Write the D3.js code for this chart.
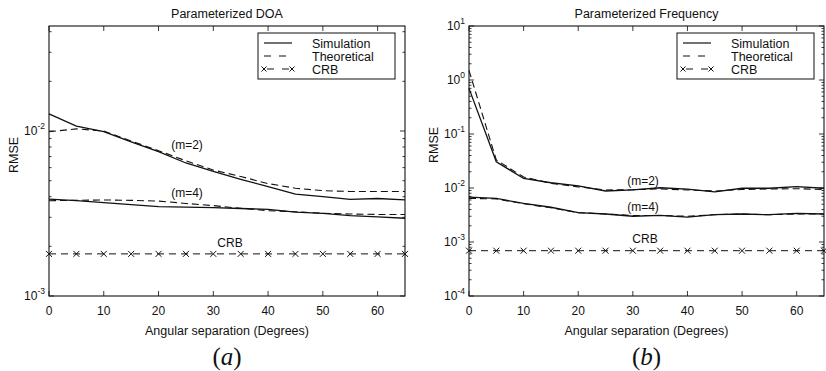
<!DOCTYPE html>
<html>
<head>
<meta charset="utf-8">
<script src="https://cdn.jsdelivr.net/npm/d3@7"></script>
<style>
  body { margin: 0; background: #fff; }
  text { font-family: "Liberation Sans", Arial, sans-serif; fill: #111; }
</style>
</head>
<body>
<div id="chart"></div>
<script>
// angular separation (degrees)
const angles = [0, 5, 10, 15, 20, 25, 30, 35, 40, 45, 50, 55, 60, 65];
const xTicks = [0, 10, 20, 30, 40, 50, 60];

// (a) Parameterized DOA
const doaSimM2 = [0.0127, 0.0107, 0.0099, 0.0086, 0.0075, 0.0064, 0.0057, 0.0051, 0.0046, 0.00415, 0.0040, 0.00385, 0.0039, 0.00382];
const doaTheoM2 = [0.0099, 0.0103, 0.0100, 0.0087, 0.0076, 0.0066, 0.0058, 0.0053, 0.0048, 0.0045, 0.00435, 0.0043, 0.0043, 0.0043];
const doaSimM4 = [0.00387, 0.00378, 0.00368, 0.00358, 0.00348, 0.00346, 0.00343, 0.00339, 0.00335, 0.00322, 0.00317, 0.00307, 0.00302, 0.00296];
const doaTheoM4 = [0.00378, 0.0038, 0.00382, 0.0038, 0.00376, 0.00364, 0.00353, 0.0034, 0.00329, 0.00324, 0.00317, 0.00314, 0.00312, 0.00312];
const doaCRB = [0.0018, 0.0018, 0.0018, 0.0018, 0.0018, 0.0018, 0.0018, 0.0018, 0.0018, 0.0018, 0.0018, 0.0018, 0.0018, 0.0018];
const doaYTicks = [-3, -2];

// (b) Parameterized Frequency
const freqSimM2 = [0.70, 0.0307, 0.015, 0.0125, 0.0109, 0.0088, 0.0092, 0.0101, 0.0095, 0.0085, 0.0099, 0.0099, 0.0106, 0.0099];
const freqTheoM2 = [1.5, 0.033, 0.016, 0.0122, 0.0105, 0.0092, 0.0093, 0.0096, 0.0092, 0.0088, 0.0094, 0.0096, 0.0097, 0.0094];
const freqSimM4 = [0.0068, 0.0064, 0.0052, 0.0044, 0.0035, 0.0033, 0.0030, 0.0031, 0.0029, 0.0032, 0.0033, 0.0032, 0.0034, 0.0033];
const freqTheoM4 = [0.0064, 0.0063, 0.0051, 0.0043, 0.0035, 0.0033, 0.0031, 0.0031, 0.0030, 0.0032, 0.0033, 0.0032, 0.0033, 0.0033];
const freqCRB = [0.00069, 0.00069, 0.00069, 0.00069, 0.00069, 0.00069, 0.00069, 0.00069, 0.00069, 0.00069, 0.00069, 0.00069, 0.00069, 0.00069];
const freqYTicks = [-4, -3, -2, -1, 0, 1];

const legendLabels = ["Simulation", "Theoretical", "CRB"];

const w = 826, h = 371;
const svg = d3.select("#chart").append("svg")
    .attr("width", w).attr("height", h)
    .attr("viewBox", [0, 0, w, h]);

function drawPanel(p) {
    const x = d3.scaleLinear().domain([0, 65]).range([p.left, p.right]);
    const y = d3.scaleLog().domain(p.yDomain).range([p.bottom, p.top]);
    const g = svg.append("g");

    // ticks (inward, both sides)
    const tk = g.append("g").attr("stroke", "#222").attr("stroke-width", 0.9);
    xTicks.forEach(t => {
        tk.append("line").attr("x1", x(t)).attr("x2", x(t)).attr("y1", p.bottom).attr("y2", p.bottom - 5);
        tk.append("line").attr("x1", x(t)).attr("x2", x(t)).attr("y1", p.top).attr("y2", p.top + 5);
    });
    const lo = Math.floor(Math.log10(p.yDomain[0])), hi = Math.ceil(Math.log10(p.yDomain[1]));
    for (let e = lo; e <= hi; e++) {
        for (let k = 1; k <= 9; k++) {
            const v = k * Math.pow(10, e);
            if (v < p.yDomain[0] * 0.999 || v > p.yDomain[1] * 1.001) continue;
            const len = k === 1 ? 5 : 2.5;
            tk.append("line").attr("x1", p.left).attr("x2", p.left + len).attr("y1", y(v)).attr("y2", y(v));
            tk.append("line").attr("x1", p.right).attr("x2", p.right - len).attr("y1", y(v)).attr("y2", y(v));
        }
    }

    // frame
    g.append("rect")
        .attr("x", p.left).attr("y", p.top)
        .attr("width", p.right - p.left).attr("height", p.bottom - p.top)
        .attr("fill", "none").attr("stroke", "#111").attr("stroke-width", 1.1);

    // x tick labels
    g.append("g").selectAll("text").data(xTicks).join("text")
        .attr("x", d => x(d)).attr("y", p.bottom + 19)
        .attr("text-anchor", "middle").style("font-size", "12px")
        .text(d => d);

    // y tick labels 10^e
    const yl = g.append("g").selectAll("text").data(p.yTicks).join("text")
        .attr("x", p.left - 4).attr("y", d => y(Math.pow(10, d)) + 4)
        .attr("text-anchor", "end").style("font-size", "12px");
    yl.append("tspan").text("10");
    yl.append("tspan").attr("dy", -6).style("font-size", "8.5px").text(d => d);

    // titles
    g.append("text").attr("x", (p.left + p.right) / 2).attr("y", 18)
        .attr("text-anchor", "middle").style("font-size", "12.5px").text(p.title);
    g.append("text").attr("x", (p.left + p.right) / 2).attr("y", 335)
        .attr("text-anchor", "middle").style("font-size", "12.5px").text("Angular separation (Degrees)");
    g.append("text")
        .attr("transform", `translate(${p.left - 31},${p.ylabelY}) rotate(-90)`)
        .attr("text-anchor", "middle").style("font-size", "12.5px").text("RMSE");

    const sub = g.append("text").attr("x", (p.left + p.right) / 2).attr("y", 365)
        .attr("text-anchor", "middle")
        .style("font-family", "'Liberation Serif', 'DejaVu Serif', serif").style("font-size", "25px");
    sub.append("tspan").text("(");
    sub.append("tspan").style("font-style", "italic").text(p.tag);
    sub.append("tspan").text(")");

    const line = d3.line().x(d => x(d[0])).y(d => y(d[1]));
    const plot = g.append("g").attr("fill", "none").attr("stroke", "#111");

    p.sim.forEach(s => plot.append("path")
        .attr("d", line(angles.map((a, i) => [a, s[i]])))
        .attr("stroke-width", 1.3));
    p.theo.forEach(s => plot.append("path")
        .attr("d", line(angles.map((a, i) => [a, s[i]])))
        .attr("stroke-width", 1.1).attr("stroke-dasharray", "7,4"));
    plot.append("path")
        .attr("d", line(angles.map((a, i) => [a, p.crb[i]])))
        .attr("stroke-width", 1).attr("stroke-dasharray", "7,5");
    plot.append("g").selectAll("path").data(angles).join("path")
        .attr("d", (a, i) => {
            const cx = x(a), cy = y(p.crb[i]), r = 3;
            return `M${cx - r},${cy - r}L${cx + r},${cy + r}M${cx - r},${cy + r}L${cx + r},${cy - r}`;
        })
        .attr("stroke-width", 1);

    // curve labels
    const lab = g.append("g").style("font-size", "12px");
    lab.append("text").attr("x", p.m2[0]).attr("y", p.m2[1]).attr("text-anchor", "middle").text("(m=2)");
    lab.append("text").attr("x", p.m4[0]).attr("y", p.m4[1]).attr("text-anchor", "middle").text("(m=4)");
    lab.append("text").attr("x", p.crbLab[0]).attr("y", p.crbLab[1]).attr("text-anchor", "middle").text("CRB");

    // legend
    const lx = p.right - 147, ly = p.top + 7;
    const leg = g.append("g");
    leg.append("rect").attr("x", lx).attr("y", ly).attr("width", 137).attr("height", 46)
        .attr("fill", "#fff").attr("stroke", "#111").attr("stroke-width", 1);
    legendLabels.forEach((name, i) => {
        const yy = ly + 10 + i * 13;
        const ln = leg.append("line").attr("x1", lx + 6).attr("x2", lx + 34)
            .attr("y1", yy).attr("y2", yy).attr("stroke", "#111").attr("stroke-width", 1.2);
        if (i === 1) ln.attr("stroke-dasharray", "7,8");
        if (i === 2) {
            ln.attr("stroke-dasharray", "7,8").attr("x1", lx + 9).attr("x2", lx + 34);
            [lx + 6, lx + 34].forEach(cx => leg.append("path")
                .attr("d", `M${cx - 2.5},${yy - 2.5}L${cx + 2.5},${yy + 2.5}M${cx - 2.5},${yy + 2.5}L${cx + 2.5},${yy - 2.5}`)
                .attr("stroke", "#111").attr("stroke-width", 1));
        }
        leg.append("text").attr("x", lx + 54).attr("y", yy + 4.5)
            .style("font-size", "12.5px").text(name);
    });
}

drawPanel({
    left: 49, right: 405, top: 26, bottom: 296,
    yDomain: [1e-3, 0.0433], yTicks: doaYTicks,
    title: "Parameterized DOA", tag: "a", ylabelY: 155,
    sim: [doaSimM2, doaSimM4], theo: [doaTheoM2, doaTheoM4], crb: doaCRB,
    m2: [187, 149], m4: [187, 197], crbLab: [230, 247]
});

drawPanel({
    left: 469, right: 824, top: 26, bottom: 296,
    yDomain: [1e-4, 10], yTicks: freqYTicks,
    title: "Parameterized Frequency", tag: "b", ylabelY: 145,
    sim: [freqSimM2, freqSimM4], theo: [freqTheoM2, freqTheoM4], crb: freqCRB,
    m2: [643, 185], m4: [643, 211], crbLab: [645, 243]
});
</script>
</body>
</html>
